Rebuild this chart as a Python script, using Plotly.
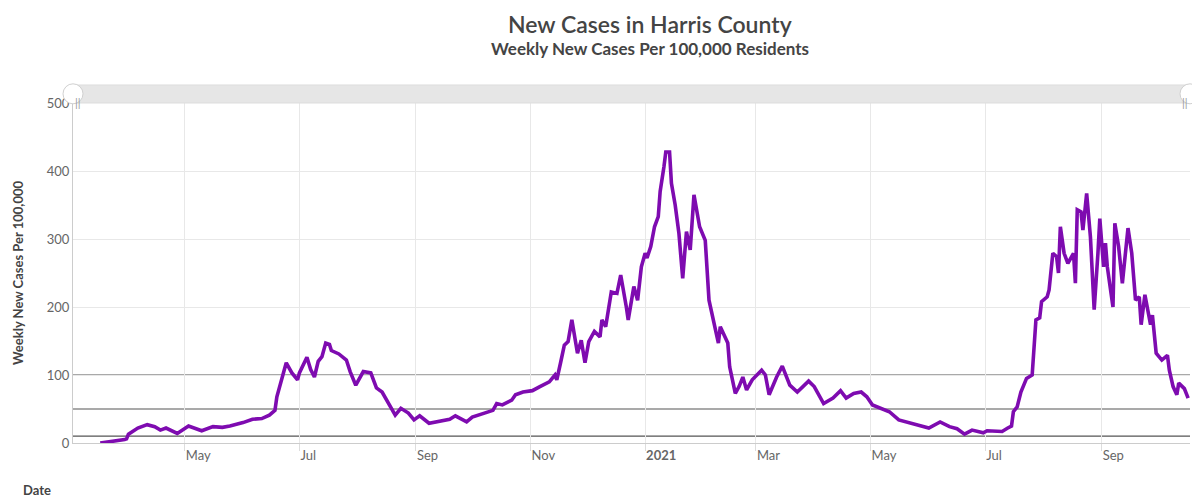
import plotly.graph_objects as go

DATES = [
    "2020-03-17", "2020-03-23", "2020-03-30", "2020-03-31", "2020-04-01", "2020-04-06", "2020-04-11",
    "2020-04-15", "2020-04-18", "2020-04-21", "2020-04-23", "2020-04-27", "2020-05-03", "2020-05-08",
    "2020-05-10", "2020-05-16", "2020-05-21", "2020-05-25", "2020-06-01", "2020-06-06", "2020-06-11",
    "2020-06-15", "2020-06-18", "2020-06-19", "2020-06-22", "2020-06-24", "2020-06-27", "2020-06-30",
    "2020-07-01", "2020-07-04", "2020-07-05", "2020-07-07", "2020-07-09", "2020-07-11", "2020-07-13",
    "2020-07-15", "2020-07-17", "2020-07-18", "2020-07-22", "2020-07-26", "2020-07-28", "2020-07-31",
    "2020-08-04", "2020-08-08", "2020-08-11", "2020-08-14", "2020-08-18", "2020-08-21", "2020-08-24",
    "2020-08-28", "2020-08-31", "2020-09-03", "2020-09-08", "2020-09-14", "2020-09-19", "2020-09-22",
    "2020-09-24", "2020-09-28", "2020-10-01", "2020-10-07", "2020-10-12", "2020-10-14", "2020-10-17",
    "2020-10-22", "2020-10-24", "2020-10-28", "2020-11-02", "2020-11-06", "2020-11-11", "2020-11-14",
    "2020-11-15", "2020-11-17", "2020-11-19", "2020-11-21", "2020-11-23", "2020-11-26", "2020-11-28",
    "2020-11-30", "2020-12-02", "2020-12-05", "2020-12-08", "2020-12-09", "2020-12-11", "2020-12-14",
    "2020-12-17", "2020-12-19", "2020-12-21", "2020-12-22", "2020-12-23", "2020-12-26", "2020-12-28",
    "2020-12-30", "2021-01-01", "2021-01-02", "2021-01-04", "2021-01-06", "2021-01-08", "2021-01-09",
    "2021-01-11", "2021-01-12", "2021-01-14", "2021-01-15", "2021-01-17", "2021-01-19", "2021-01-21",
    "2021-01-23", "2021-01-25", "2021-01-27", "2021-01-30", "2021-02-02", "2021-02-04", "2021-02-07",
    "2021-02-09", "2021-02-10", "2021-02-14", "2021-02-15", "2021-02-18", "2021-02-20", "2021-02-22",
    "2021-02-24", "2021-02-27", "2021-03-04", "2021-03-06", "2021-03-08", "2021-03-12", "2021-03-15",
    "2021-03-19", "2021-03-23", "2021-03-29", "2021-04-01", "2021-04-06", "2021-04-11", "2021-04-15",
    "2021-04-18", "2021-04-22", "2021-04-26", "2021-04-29", "2021-05-02", "2021-05-06", "2021-05-11",
    "2021-05-16", "2021-05-20", "2021-05-27", "2021-06-01", "2021-06-07", "2021-06-12", "2021-06-16",
    "2021-06-20", "2021-06-24", "2021-06-30", "2021-07-02", "2021-07-07", "2021-07-10", "2021-07-13",
    "2021-07-15", "2021-07-16", "2021-07-18", "2021-07-20", "2021-07-23", "2021-07-26", "2021-07-28",
    "2021-07-30", "2021-07-31", "2021-08-03", "2021-08-04", "2021-08-06", "2021-08-08", "2021-08-09",
    "2021-08-10", "2021-08-12", "2021-08-14", "2021-08-17", "2021-08-18", "2021-08-19", "2021-08-21",
    "2021-08-22", "2021-08-24", "2021-08-26", "2021-08-28", "2021-08-30", "2021-08-31", "2021-09-02",
    "2021-09-03", "2021-09-04", "2021-09-07", "2021-09-08", "2021-09-10", "2021-09-12", "2021-09-15",
    "2021-09-17", "2021-09-19", "2021-09-21", "2021-09-22", "2021-09-24", "2021-09-27", "2021-09-28",
    "2021-09-30", "2021-10-03", "2021-10-06", "2021-10-07", "2021-10-09", "2021-10-11", "2021-10-12",
    "2021-10-15", "2021-10-17",
]

WEEKLY_CASES = [
    0, 2, 5, 6, 13, 22, 27,
    24, 19, 22, 19, 14, 25, 20,
    18, 24, 23, 25, 30, 35, 36,
    41, 48, 68, 97, 118, 103, 93,
    103, 120, 126, 108, 97, 120, 127,
    147, 145, 136, 131, 122, 105, 85,
    105, 103, 81, 75, 56, 41, 51,
    44, 34, 40, 29, 32, 35, 40,
    37, 31, 38, 44, 48, 58, 56,
    63, 71, 75, 77, 83, 90, 100,
    93, 118, 144, 149, 181, 132, 151,
    118, 149, 164, 156, 181, 171, 222,
    220, 247, 220, 200, 181, 230, 210,
    259, 279, 272, 289, 318, 333, 370,
    406, 428, 428, 382, 350, 308, 242,
    311, 284, 365, 318, 298, 210, 171,
    147, 171, 147, 112, 73, 83, 97,
    78, 93, 107, 100, 71, 97, 113,
    85, 75, 91, 83, 58, 66, 77,
    66, 73, 75, 68, 56, 51, 46,
    34, 31, 26, 22, 31, 24, 21,
    13, 19, 15, 18, 17, 17, 22,
    25, 46, 53, 75, 95, 100, 181,
    184, 208, 215, 225, 279, 274, 250,
    318, 279, 264, 279, 235, 343, 340,
    313, 367, 303, 196, 279, 330, 259,
    294, 259, 200, 323, 289, 235, 316,
    279, 210, 215, 174, 218, 174, 188,
    132, 122, 129, 107, 83, 71, 88,
    80, 66,
]

TICK_DATES = ["2020-05-01", "2020-07-01", "2020-09-01", "2020-11-01", "2021-01-01",
              "2021-03-01", "2021-05-01", "2021-07-01", "2021-09-01"]
TICK_LABELS = ["May", "Jul", "Sep", "Nov", "<b>2021</b>", "Mar", "May", "Jul", "Sep"]

REF_LEVELS = [10, 50, 100]

FONT = "Lato"

fig = go.Figure()
fig.add_trace(go.Scatter(x=DATES, y=WEEKLY_CASES, mode="lines",
                         line={"color": "#7e0bb0", "width": 3.6}, showlegend=False))

for level in REF_LEVELS:
    fig.add_hline(y=level, line={"color": "#555555", "width": 1.2}, layer="below")

# fake range selector bar on top, like the original
fig.add_shape(type="rect", xref="paper", yref="paper", x0=0, x1=1, y0=1.0, y1=1.053,
              fillcolor="#e6e6e6", line={"color": "#dddddd", "width": 1}, layer="above")
for hx in (0, 1):
    fig.add_shape(type="circle", xref="paper", yref="paper", xsizemode="pixel", ysizemode="pixel",
                  xanchor=hx, yanchor=1.027, x0=-10, x1=10, y0=-10, y1=10,
                  fillcolor="white", line={"color": "#d0d0d0", "width": 1})
    fig.add_annotation(x=hx, y=1.027, xref="paper", yref="paper", text="||", showarrow=False,
                       font={"family": FONT, "size": 11, "color": "#999999"})

fig.add_annotation(x=0.517, y=1.231, xref="paper", yref="paper", yanchor="middle",
                   text="New Cases in Harris County", showarrow=False,
                   font={"family": FONT, "size": 23, "color": "#444444", "weight": 600})
fig.add_annotation(x=0.517, y=1.16, xref="paper", yref="paper", yanchor="middle",
                   text="<b>Weekly New Cases Per 100,000 Residents</b>", showarrow=False,
                   font={"family": FONT, "size": 17, "color": "#444444"})
fig.add_annotation(x=-0.047, y=-0.138, xref="paper", yref="paper", xanchor="left", yanchor="middle",
                   text="<b>Date</b>", showarrow=False,
                   font={"family": FONT, "size": 13, "color": "#444444"})

fig.update_xaxes(
    type="date", range=["2020-03-02 12:00", "2021-10-18"], automargin=False,
    tickvals=TICK_DATES, ticktext=TICK_LABELS, ticklabelposition="outside right",
    tickfont={"family": FONT, "size": 13, "color": "#666666"},
    ticks="outside", ticklen=7, tickcolor="#dddddd",
    showgrid=True, gridcolor="#e8e8e8", gridwidth=1,
    showline=True, linecolor="#cccccc", linewidth=1, zeroline=False,
)
fig.update_yaxes(
    range=[0, 500], dtick=100, automargin=False,
    tickfont={"family": FONT, "size": 13, "color": "#666666"},
    title={"text": "<b>Weekly New Cases Per 100,000</b>", "standoff": 20,
           "font": {"family": FONT, "size": 13, "color": "#444444"}},
    showgrid=True, gridcolor="#e8e8e8", gridwidth=1,
    showline=True, linecolor="#cccccc", linewidth=1, zeroline=False,
    ticks="", ticklen=0,
)
# the page body adds 8px around the figure, so the figure is 8px smaller than the window
fig.update_layout(
    width=1192, height=492,
    margin={"l": 65, "r": 10, "t": 95, "b": 57},
    paper_bgcolor="white", plot_bgcolor="white",
    font={"family": FONT},
    hovermode="x",
)

fig.write_html("out.html")
